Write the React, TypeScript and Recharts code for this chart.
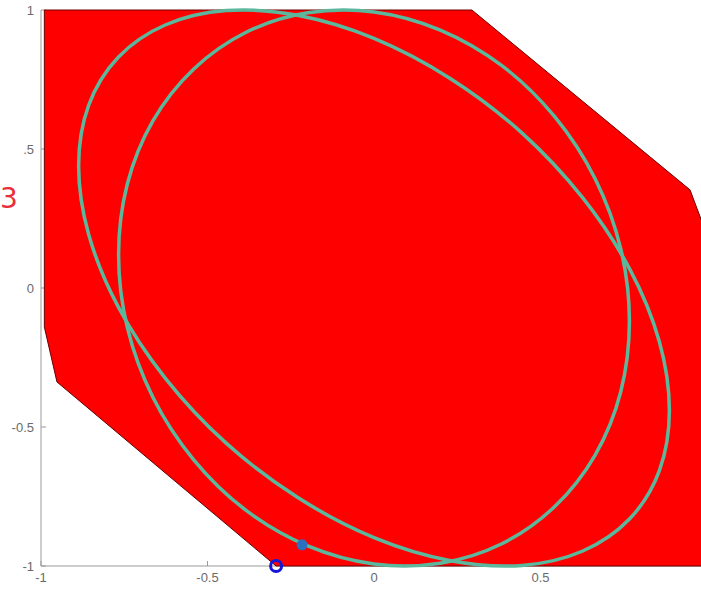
import { ScatterChart, Scatter, XAxis, YAxis } from "recharts";

// feasible region corners
const regionX = [-0.99, 0.294, 0.949, 1.0, 1.0, -0.294, -0.952, -0.99];
const regionY = [1.0, 1.0, 0.353, 0.19, -1.0, -1.0, -0.338, -0.14];

// points along the two level curves
const ellipseAX = [0.887, 0.857, 0.768, 0.627, 0.444, 0.23, 0, -0.23, -0.444, -0.627, -0.768, -0.857,
  -0.887, -0.857, -0.768, -0.627, -0.444, -0.23, 0, 0.23, 0.444, 0.627, 0.768, 0.857];
const ellipseAY = [-0.44, -0.193, 0.068, 0.324, 0.558, 0.753, 0.898, 0.981, 0.998, 0.946, 0.83, 0.657,
  0.44, 0.193, -0.068, -0.324, -0.558, -0.753, -0.898, -0.981, -0.998, -0.946, -0.83, -0.657];
const ellipseBX = [0.767, 0.741, 0.664, 0.542, 0.384, 0.199, 0, -0.199, -0.384, -0.542, -0.664, -0.741,
  -0.767, -0.741, -0.664, -0.542, -0.384, -0.199, 0, 0.199, 0.384, 0.542, 0.664, 0.741];
const ellipseBY = [-0.12, 0.141, 0.393, 0.617, 0.8, 0.928, 0.993, 0.99, 0.92, 0.787, 0.601, 0.373,
  0.12, -0.141, -0.393, -0.617, -0.8, -0.928, -0.993, -0.99, -0.92, -0.787, -0.601, -0.373];

const dotPoint = { x: -0.216, y: -0.924 };
const ringPoint = { x: -0.294, y: -1.0 };

// the "1" tick of the x axis falls just outside the visible frame
const xTicks = [-1, -0.5, 0, 0.5];
const yTicks = [-1, -0.5, 0, 0.5, 1];

const zip = (xs: number[], ys: number[]) => xs.map((x, i) => ({ x, y: ys[i] }));
const region = zip(regionX, regionY);
const ellipseA = zip(ellipseAX, ellipseAY);
const ellipseB = zip(ellipseBX, ellipseBY);

type Pt = { x: number; y: number };

function closedSpline(pts: Pt[]) {
  const n = pts.length;
  let d = `M${pts[0].x},${pts[0].y}`;
  for (let i = 0; i < n; i++) {
    const p0 = pts[(i - 1 + n) % n];
    const p1 = pts[i];
    const p2 = pts[(i + 1) % n];
    const p3 = pts[(i + 2) % n];
    const c1x = p1.x + (p2.x - p0.x) / 6;
    const c1y = p1.y + (p2.y - p0.y) / 6;
    const c2x = p2.x - (p3.x - p1.x) / 6;
    const c2y = p2.y - (p3.y - p1.y) / 6;
    d += ` C${c1x},${c1y} ${c2x},${c2y} ${p2.x},${p2.y}`;
  }
  return d + " Z";
}

const polygonLine = (p: any) => (
  <path
    d={"M" + p.points.map((q: Pt) => `${q.x},${q.y}`).join(" L") + " Z"}
    fill="#ff0000"
    stroke="#6a0000"
    strokeWidth={1}
  />
);

const ellipseLine = (p: any) => (
  <path d={closedSpline(p.points)} fill="none" stroke="#5cb89c" strokeWidth={3.5} />
);

const noShape = () => <g />;

const axisColor = "#9a9a9a";
const tickFont = { fill: "#6a6a6a", fontSize: 13, fontFamily: "Liberation Sans, Arial, sans-serif" };

export default function App() {
  return (
    <div
      style={{
        position: "absolute",
        left: 0,
        top: 0,
        width: 701,
        height: 590,
        overflow: "hidden",
        background: "#fff",
      }}
    >
      <ScatterChart width={720} height={590} margin={{ top: 10, right: 13, bottom: 0, left: 0 }}>
        <XAxis
          type="number"
          dataKey="x"
          domain={[-1, 1]}
          ticks={xTicks}
          height={24}
          stroke={axisColor}
          tickSize={-5}
          tickMargin={12}
          tick={tickFont}
        />
        <XAxis
          xAxisId="top"
          orientation="top"
          type="number"
          domain={[-1, 1]}
          ticks={xTicks}
          height={0}
          stroke={axisColor}
          tickSize={-5}
          tickFormatter={() => ""}
        />
        <YAxis
          type="number"
          dataKey="y"
          domain={[-1, 1]}
          ticks={yTicks}
          width={41}
          stroke={axisColor}
          tickSize={-5}
          tickMargin={12}
          tick={tickFont}
          tickFormatter={(v: number) => (v === 0.5 ? ".5" : String(v))}
        />
        <Scatter data={region} line={polygonLine} shape={noShape} isAnimationActive={false} />
        <Scatter data={ellipseA} line={ellipseLine} shape={noShape} isAnimationActive={false} />
        <Scatter data={ellipseB} line={ellipseLine} shape={noShape} isAnimationActive={false} />
        <Scatter
          data={[dotPoint]}
          isAnimationActive={false}
          shape={(p: any) => <circle cx={p.cx} cy={p.cy} r={5.5} fill="#2a6fc0" />}
        />
        <Scatter
          data={[ringPoint]}
          isAnimationActive={false}
          shape={(p: any) => <circle cx={p.cx} cy={p.cy} r={5.5} fill="none" stroke="#1616d8" strokeWidth={3} />}
        />
      </ScatterChart>
      <div
        style={{
          position: "absolute",
          left: 0,
          top: 182,
          color: "#e8303a",
          fontSize: 28,
          fontFamily: "DejaVu Sans, sans-serif",
        }}
      >
        3
      </div>
    </div>
  );
}
